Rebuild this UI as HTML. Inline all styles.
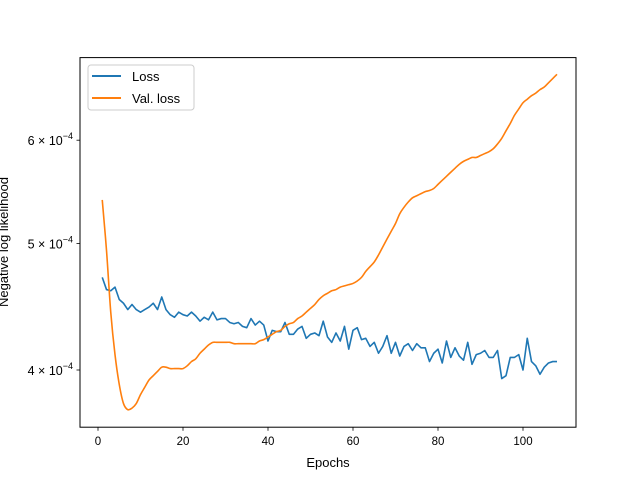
<!DOCTYPE html>
<html><head><meta charset="utf-8"><style>
body{margin:0;background:#fff}
svg{display:block;font-family:"Liberation Sans","DejaVu Sans",sans-serif}
</style></head><body>
<svg id="chart" width="640" height="480">
<rect width="640" height="480" fill="#fff"/>
<g id="plot"></g>
<rect x="80" y="57.6" width="496" height="369.6" fill="none" stroke="#000" stroke-width="1"/>
<g id="xticks"></g><g id="yticks"></g>
<text x="328" y="467" text-anchor="middle" font-size="13">Epochs</text>
<text transform="translate(8,242) rotate(-90)" text-anchor="middle" font-size="13">Negative log likelihood</text>
<g>
<rect x="88" y="65" width="106" height="45" rx="3" fill="#fff" stroke="#ccc"/>
<line x1="92" y1="76" x2="121" y2="76" stroke="#1f77b4" stroke-width="2"/>
<text x="132" y="81" font-size="13">Loss</text>
<line x1="92" y1="98" x2="121" y2="98" stroke="#ff7f0e" stroke-width="2"/>
<text x="132" y="103" font-size="13">Val. loss</text>
</g>
</svg>
<script>
const loss=[4.71,4.61,4.60,4.63,4.53,4.50,4.45,4.49,4.45,4.43,4.45,4.47,4.50,4.45,4.55,4.45,4.41,4.39,4.43,4.41,4.40,4.43,4.40,4.36,4.39,4.37,4.43,4.37,4.38,4.38,4.35,4.34,4.35,4.32,4.31,4.38,4.33,4.36,4.33,4.21,4.29,4.28,4.28,4.35,4.26,4.26,4.30,4.32,4.23,4.26,4.27,4.25,4.36,4.24,
4.20,4.27,4.21,4.32,4.15,4.29,4.31,4.22,4.23,4.17,4.20,4.12,4.17,4.25,4.12,4.20,4.10,4.17,4.19,4.14,4.19,4.16,4.16,4.06,4.12,4.15,4.05,4.21,4.09,4.16,4.10,4.07,4.20,4.04,4.11,4.12,4.14,4.09,4.09,4.14,3.94,3.96,4.09,4.09,4.11,4.00,4.23,4.06,4.03,3.97,4.02,4.05,4.06,4.06];
const valLoss=[5.40,4.94,4.43,4.11,3.90,3.77,3.73,3.74,3.77,3.83,3.88,3.93,3.96,3.99,4.02,4.02,4.01,4.01,4.01,4.01,4.03,4.06,4.08,4.12,4.15,4.18,4.20,4.20,4.20,4.20,4.20,4.19,4.19,4.19,4.19,4.19,4.19,4.21,4.22,4.24,4.26,4.28,4.29,4.32,4.34,4.35,4.38,4.40,4.43,4.46,4.49,4.53,4.56,4.58,
4.60,4.61,4.63,4.64,4.65,4.66,4.68,4.71,4.76,4.80,4.84,4.90,4.97,5.04,5.11,5.18,5.27,5.33,5.38,5.42,5.44,5.46,5.48,5.49,5.51,5.55,5.59,5.63,5.67,5.71,5.75,5.78,5.80,5.82,5.82,5.84,5.86,5.88,5.91,5.96,6.02,6.10,6.18,6.27,6.34,6.41,6.45,6.49,6.52,6.56,6.59,6.64,6.69,6.74];
const xTicks=[0,20,40,60,80,100];
const yTicks=[4,5,6];
const NS="http://www.w3.org/2000/svg";
function xs(v){return 98+v*4.25;}
function ys(v){return 370-1305*Math.log10(v/4);}
function mk(tag,attrs,parent){const e=document.createElementNS(NS,tag);for(const k in attrs)e.setAttribute(k,attrs[k]);parent.appendChild(e);return e;}
const plot=document.getElementById('plot');
function line(data,color,name,smooth){
  const pts=data.map((v,i)=>[xs(i+1),ys(v)]);
  let d='M'+pts[0][0].toFixed(2)+','+pts[0][1].toFixed(2);
  for(let i=1;i<pts.length;i++){
    if(!smooth){d+=' L'+pts[i][0].toFixed(2)+','+pts[i][1].toFixed(2);continue;}
    const p0=pts[Math.max(0,i-2)],p1=pts[i-1],p2=pts[i],p3=pts[Math.min(pts.length-1,i+1)];
    const c1x=p1[0]+(p2[0]-p0[0])/6,c1y=p1[1]+(p2[1]-p0[1])/6;
    const c2x=p2[0]-(p3[0]-p1[0])/6,c2y=p2[1]-(p3[1]-p1[1])/6;
    d+=' C'+c1x.toFixed(2)+','+c1y.toFixed(2)+' '+c2x.toFixed(2)+','+c2y.toFixed(2)+' '+p2[0].toFixed(2)+','+p2[1].toFixed(2);
  }
  const p=mk('path',{d:d,fill:'none',stroke:color,'stroke-width':1.6,'stroke-linejoin':'round'},plot);
  
  
}
line(loss,'#1f77b4','loss-line',false);
line(valLoss,'#ff7f0e','val-loss-line',true);
const xg=document.getElementById('xticks');
xTicks.forEach(t=>{
  const x=xs(t);
  const l=mk('line',{x1:x,x2:x,y1:427.2,y2:430.7,stroke:'#000','stroke-width':0.8},xg);
  
  
  const tx=mk('text',{x:x,y:445,'text-anchor':'middle','font-size':'11.5'},xg);
  tx.textContent=t;
  
  
});
const yg=document.getElementById('yticks');
yTicks.forEach(t=>{
  const y=ys(t);
  const l=mk('line',{x1:76.5,x2:80,y1:y,y2:y,stroke:'#000','stroke-width':0.8},yg);
  
  
  const tx=mk('text',{x:73,y:y+5,'text-anchor':'end','font-size':'12.5'},yg);
  tx.innerHTML=t+' \u00d7 10<tspan dy="-6" font-size="9">\u22124</tspan>';
  
  
});
</script>
</body></html>
